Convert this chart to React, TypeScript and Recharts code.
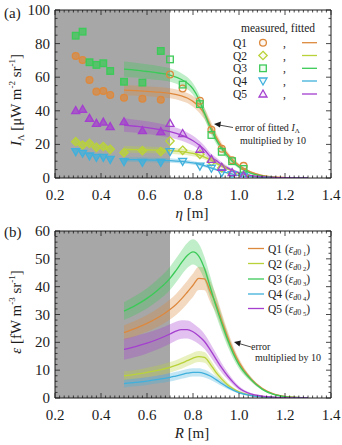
import React from 'react';
import { ComposedChart, Line, Area, Scatter, XAxis, YAxis, ReferenceArea } from 'recharts';

// ---- data ----
const seriesNames = ['Q1', 'Q2', 'Q3', 'Q4', 'Q5'];
const seriesColors = ['#dd893d', '#bad23a', '#3cca58', '#40b0dc', '#a43fcf'];

// (a) measured intensity I_lambda vs eta
const etaMeas = [0.29, 0.32, 0.35, 0.38, 0.41, 0.44, 0.5, 0.58, 0.66, 0.7, 0.755, 0.83, 0.88, 0.925, 0.97, 1.02];
const q1Meas = [72.6, 70.2, 58.3, 51.4, 51.8, 49.4, 47.8, 47.2, 46.6, 61.6, 53.3, 46.0, 28.7, 17.4, 10.6, 7.2];
const q2Meas = [21.6, 19.6, 20.6, 18.3, 18.7, 17.1, 15.1, 16.3, 15.7, 22.0, 16.5, 14.1, 9.7, 6.0, 2.6, 1.3];
const q3Meas = [84.7, 87.1, 68.9, 67.3, 68.3, 63.7, 57.3, 56.8, 75.6, 70.6, 55.6, 44.0, 25.6, 15.6, 10.0, 5.4];
const q4Meas = [15.7, 14.7, 13.1, 12.3, 12.3, 11.1, 9.7, 9.3, 9.3, 15.7, 9.9, 7.1, 5.8, 3.2, 2.0, 1.0];
const q5Meas = [40.1, 40.9, 35.5, 32.5, 33.3, 30.6, 33.5, 28.2, 27.6, 32.5, 26.5, 17.1, 11.1, 6.4, 3.2, 1.6];

// (a) fitted curves and their error (x10)
const etaFit = [0.5, 0.55, 0.6, 0.65, 0.7, 0.75, 0.775, 0.8, 0.825, 0.85, 0.875, 0.9, 0.925, 0.95, 0.975, 1.0, 1.05, 1.1, 1.15, 1.2, 1.25, 1.3];
const q1Fit = [52.3, 52.0, 51.6, 51.1, 50.4, 48.9, 47.6, 45.6, 42.6, 38.3, 31.5, 24.5, 18.8, 14.2, 10.5, 7.6, 3.6, 1.5, 0.6, 0.25, 0.1, 0.05];
const q2Fit = [17.0, 16.9, 16.8, 16.6, 16.3, 15.7, 15.2, 14.6, 13.7, 12.4, 10.8, 8.9, 7.0, 5.4, 4.0, 2.9, 1.4, 0.6, 0.25, 0.1, 0.05, 0.02];
const q3Fit = [64.8, 64.2, 63.4, 62.5, 61.3, 58.6, 56.5, 53.0, 47.0, 38.5, 30.0, 23.0, 17.5, 13.0, 9.4, 6.6, 2.9, 1.1, 0.4, 0.15, 0.05, 0.02];
const q4Fit = [11.0, 10.9, 10.8, 10.6, 10.4, 9.9, 9.5, 9.0, 8.3, 7.3, 6.2, 5.0, 3.9, 3.0, 2.2, 1.6, 0.8, 0.35, 0.15, 0.06, 0.03, 0.01];
const q5Fit = [31.5, 30.8, 30.0, 28.9, 27.6, 25.5, 24.0, 22.2, 19.8, 16.8, 12.8, 10.5, 8.0, 6.0, 4.4, 3.2, 1.6, 0.8, 0.35, 0.15, 0.07, 0.03];
const q1FitErr = [3.0, 3.0, 3.0, 3.0, 3.0, 3.0, 3.0, 3.2, 3.4, 3.4, 3.0, 2.6, 2.0, 1.6, 1.2, 0.9, 0.5, 0.25, 0.1, 0.05, 0.02, 0.01];
const q2FitErr = [2.0, 2.0, 1.9, 1.9, 1.8, 1.8, 1.7, 1.6, 1.5, 1.4, 1.3, 1.1, 0.9, 0.7, 0.5, 0.4, 0.2, 0.1, 0.04, 0.02, 0.01, 0];
const q3FitErr = [4.5, 4.4, 4.3, 4.2, 4.0, 3.8, 3.6, 3.4, 3.3, 3.2, 2.9, 2.5, 2.0, 1.6, 1.2, 0.9, 0.45, 0.2, 0.08, 0.03, 0.01, 0.01];
const q4FitErr = [1.4, 1.4, 1.4, 1.3, 1.3, 1.2, 1.2, 1.1, 1.0, 0.9, 0.8, 0.7, 0.55, 0.45, 0.35, 0.25, 0.12, 0.06, 0.03, 0.01, 0, 0];
const q5FitErr = [4.0, 3.9, 3.8, 3.7, 3.5, 3.3, 3.1, 2.9, 2.7, 2.4, 2.1, 1.8, 1.4, 1.1, 0.8, 0.6, 0.3, 0.15, 0.06, 0.03, 0.01, 0.01];

// (b) emissivity vs R
const rGrid = [0.5, 0.55, 0.6, 0.65, 0.7, 0.725, 0.75, 0.775, 0.8, 0.825, 0.85, 0.875, 0.9, 0.925, 0.95, 0.975, 1.0, 1.05, 1.1, 1.15, 1.2, 1.25, 1.3];
const q1Eps = [23.5, 25.0, 26.8, 29.0, 31.8, 33.5, 35.6, 38.0, 40.5, 43.0, 42.8, 38.2, 33.8, 27.8, 22.0, 17.0, 12.8, 7.0, 3.5, 1.5, 0.6, 0.25, 0.1];
const q2Eps = [8.0, 8.5, 9.2, 10.0, 11.0, 11.7, 12.5, 13.4, 14.3, 14.9, 14.6, 12.2, 9.2, 6.8, 4.8, 3.3, 2.2, 1.0, 0.5, 0.2, 0.1, 0.04, 0.02];
const q3Eps = [31.2, 33.3, 35.8, 39.0, 43.0, 45.7, 48.6, 51.2, 52.5, 51.0, 46.5, 39.8, 33.0, 26.8, 21.0, 16.0, 12.0, 6.8, 3.2, 1.3, 0.5, 0.2, 0.08];
const q4Eps = [5.2, 5.6, 6.1, 6.7, 7.4, 7.9, 8.4, 8.9, 9.2, 9.2, 8.8, 7.9, 6.6, 5.2, 3.9, 2.8, 1.9, 0.9, 0.4, 0.18, 0.07, 0.03, 0.01];
const q5Eps = [17.5, 18.5, 19.7, 21.2, 23.0, 24.0, 24.6, 24.6, 23.8, 22.3, 20.3, 17.3, 14.0, 10.8, 8.0, 5.6, 3.6, 1.5, 0.7, 0.3, 0.12, 0.05, 0.02];
const q1EpsErr = [2.6, 2.8, 3.0, 3.3, 3.6, 3.8, 4.0, 4.1, 4.2, 4.2, 4.1, 3.8, 3.3, 2.8, 2.3, 1.8, 1.4, 0.8, 0.4, 0.2, 0.08, 0.03, 0.01];
const q2EpsErr = [1.6, 1.6, 1.7, 1.8, 1.9, 1.9, 2.0, 2.0, 2.0, 2.0, 1.9, 1.7, 1.4, 1.1, 0.8, 0.6, 0.4, 0.2, 0.1, 0.04, 0.02, 0.01, 0];
const q3EpsErr = [3.2, 3.4, 3.6, 3.9, 4.2, 4.3, 4.4, 4.5, 4.5, 4.4, 4.2, 3.9, 3.4, 2.9, 2.4, 1.9, 1.5, 0.8, 0.4, 0.2, 0.08, 0.03, 0.01];
const q4EpsErr = [1.4, 1.4, 1.4, 1.4, 1.5, 1.5, 1.5, 1.5, 1.5, 1.5, 1.4, 1.3, 1.1, 0.9, 0.7, 0.5, 0.35, 0.17, 0.08, 0.03, 0.01, 0, 0];
const q5EpsErr = [3.8, 3.8, 3.7, 3.6, 3.5, 3.4, 3.3, 3.2, 3.1, 2.9, 2.7, 2.4, 2.1, 1.7, 1.3, 1.0, 0.7, 0.35, 0.15, 0.07, 0.03, 0.01, 0];

const xMajorLabels = ['0.2', '0.4', '0.6', '0.8', '1.0', '1.2', '1.4'];
const yMajorLabelsA = ['0', '20', '40', '60', '80', '100'];
const yMajorLabelsB = ['0', '10', '20', '30', '40', '50', '60'];

// ---- derived tables ----
const measA = [q1Meas, q2Meas, q3Meas, q4Meas, q5Meas];
const fitA = [q1Fit, q2Fit, q3Fit, q4Fit, q5Fit];
const errA = [q1FitErr, q2FitErr, q3FitErr, q4FitErr, q5FitErr];
const epsB = [q1Eps, q2Eps, q3Eps, q4Eps, q5Eps];
const errB = [q1EpsErr, q2EpsErr, q3EpsErr, q4EpsErr, q5EpsErr];

function buildRows(xs: number[], vals: number[][], errs: number[][]) {
  return xs.map((x, i) => {
    const row: any = { x };
    seriesNames.forEach((s, k) => {
      row[s] = vals[k][i];
      row[s + 'band'] = [Math.max(0, vals[k][i] - errs[k][i]), vals[k][i] + errs[k][i]];
    });
    return row;
  });
}

const rowsA = buildRows(etaFit, fitA, errA);
const rowsB = buildRows(rGrid, epsB, errB);
const scatterA = measA.map((vals) => etaMeas.map((x, i) => ({ x, y: vals[i] })));

const xTicks = Array.from({ length: 61 }, (_, i) => Math.round((0.2 + i * 0.02) * 100) / 100);
const yTicksA = Array.from({ length: 21 }, (_, i) => i * 5);
const yTicksB = Array.from({ length: 31 }, (_, i) => i * 2);

const SERIF = 'Liberation Serif';
const INK = '#1c1c1c';
const GRAY = '#a7a7a7';

function isMajor(v: number, step: number) {
  return Math.abs(v / step - Math.round(v / step)) < 1e-6;
}

// ticks point inward; labels only on the bottom and left axes
function makeTick(side: 'bottom' | 'top' | 'left' | 'right', step: number, labels?: string[], first = 0) {
  return (p: any) => {
    const v = p.payload.value;
    const major = isMajor(v, step);
    const len = major ? 5 : 2.5;
    const { x, y } = p;
    let line;
    let label = null;
    const idx = Math.round((v - first) / step);
    if (side === 'bottom') {
      line = <line x1={x} y1={y} x2={x} y2={y - len} stroke={INK} strokeWidth={0.8} />;
      if (labels && major) label = <text x={x} y={y + 22} textAnchor="middle" style={{ fontFamily: SERIF }} fontSize={15} fill={INK}>{labels[idx]}</text>;
    } else if (side === 'top') {
      line = <line x1={x} y1={y} x2={x} y2={y + len} stroke={INK} strokeWidth={0.8} />;
    } else if (side === 'left') {
      line = <line x1={x} y1={y} x2={x + len} y2={y} stroke={INK} strokeWidth={0.8} />;
      if (labels && major) label = <text x={x - 5} y={y + 5} textAnchor="end" style={{ fontFamily: SERIF }} fontSize={15} fill={INK}>{labels[idx]}</text>;
    } else {
      line = <line x1={x} y1={y} x2={x - len} y2={y} stroke={INK} strokeWidth={0.8} />;
    }
    return <g>{line}{label}</g>;
  };
}

function MarkerShape({ cx, cy, kind, color, filled }: any) {
  const common = { stroke: color, strokeWidth: 1.3, fill: color, fillOpacity: filled ? 0.75 : 0.08 };
  if (kind === 0) return <circle cx={cx} cy={cy} r={3.4} {...common} />;
  if (kind === 1) return <polygon points={`${cx},${cy - 4.2} ${cx + 4.2},${cy} ${cx},${cy + 4.2} ${cx - 4.2},${cy}`} {...common} />;
  if (kind === 2) return <rect x={cx - 3.3} y={cy - 3.3} width={6.6} height={6.6} {...common} />;
  if (kind === 3) return <polygon points={`${cx - 4},${cy - 3} ${cx + 4},${cy - 3} ${cx},${cy + 4}`} {...common} />;
  return <polygon points={`${cx - 4},${cy + 3} ${cx + 4},${cy + 3} ${cx},${cy - 4}`} {...common} />;
}

function axes(yMax: number, yTicks: number[], yStep: number, yLabels: string[]) {
  return [
    <XAxis key="xb" xAxisId="b" dataKey="x" type="number" domain={[0.2, 1.4]} ticks={xTicks} interval={0}
      tickSize={0} tickMargin={0} tickLine={false} tick={makeTick('bottom', 0.2, xMajorLabels, 0.2)} height={1}
      allowDataOverflow stroke={INK} />,
    <XAxis key="xt" xAxisId="t" orientation="top" dataKey="x" type="number" domain={[0.2, 1.4]} ticks={xTicks} interval={0}
      tickSize={0} tickMargin={0} tickLine={false} tick={makeTick('top', 0.2)} height={1}
      allowDataOverflow stroke={INK} />,
    <YAxis key="yl" yAxisId="l" type="number" domain={[0, yMax]} ticks={yTicks} interval={0}
      tickSize={0} tickMargin={0} tickLine={false} tick={makeTick('left', yStep, yLabels, 0)} width={1}
      allowDataOverflow stroke={INK} />,
    <YAxis key="yr" yAxisId="r" orientation="right" type="number" domain={[0, yMax]} ticks={yTicks} interval={0}
      tickSize={0} tickMargin={0} tickLine={false} tick={makeTick('right', yStep)} width={1}
      allowDataOverflow stroke={INK} />,
  ];
}

function bandsAndLines() {
  const out: any[] = [];
  seriesNames.forEach((s, k) => {
    out.push(
      <Area key={s + 'band'} xAxisId="b" yAxisId="l" dataKey={s + 'band'} type="monotone" stroke="none"
        fill={seriesColors[k]} fillOpacity={0.32} isAnimationActive={false} />
    );
  });
  seriesNames.forEach((s, k) => {
    out.push(
      <Line key={s} xAxisId="b" yAxisId="l" dataKey={s} type="monotone" stroke={seriesColors[k]}
        strokeWidth={1.3} dot={false} isAnimationActive={false} />
    );
  });
  return out;
}

function Sup({ children }: any) {
  return <tspan fontSize={9} dy={-6}>{children}</tspan>;
}

function Overlay() {
  const t = { style: { fontFamily: SERIF }, fill: INK };
  const legA = [42.7, 55.5, 68.3, 81, 94];
  const legB = [248.5, 263.5, 279, 294, 308.5];
  return (
    <svg width={342} height={445} style={{ position: 'absolute', left: 0, top: 0, pointerEvents: 'none' }}>
      <text x={4} y={18} fontSize={15} {...t}>(a)</text>
      <text x={4} y={237} fontSize={15} {...t}>(b)</text>

      <text transform="translate(21,100) rotate(-90)" textAnchor="middle" fontSize={15} {...t}>
        <tspan fontStyle="italic">I</tspan>
        <tspan fontSize={9} dy={3}>Λ</tspan>
        <tspan dy={-3}> [μW m</tspan>
        <Sup>-2</Sup>
        <tspan dy={6}> sr</tspan>
        <Sup>-1</Sup>
        <tspan dy={6}>]</tspan>
      </text>
      <text transform="translate(21,312) rotate(-90)" textAnchor="middle" fontSize={15} {...t}>
        <tspan fontStyle="italic">ε</tspan>
        <tspan> [fW m</tspan>
        <Sup>-3</Sup>
        <tspan dy={6}> sr</tspan>
        <Sup>-1</Sup>
        <tspan dy={6}>]</tspan>
      </text>

      <text x={192} y={218} textAnchor="middle" fontSize={15} {...t}>
        <tspan fontStyle="italic">η</tspan> [m]
      </text>
      <text x={192} y={438} textAnchor="middle" fontSize={15} {...t}>
        <tspan fontStyle="italic">R</tspan> [m]
      </text>

      {/* legend (a) */}
      <text x={241} y={32} fontSize={11.5} {...t}>measured,  fitted</text>
      {seriesNames.map((s, k) => (
        <g key={s}>
          <text x={233} y={legA[k] + 4} fontSize={11.5} {...t}>{s}</text>
          <MarkerShape cx={263} cy={legA[k]} kind={k} color={seriesColors[k]} filled={false} />
          <text x={283} y={legA[k] + 4} fontSize={11.5} {...t}>,</text>
          <line x1={302} x2={317} y1={legA[k]} y2={legA[k]} stroke={seriesColors[k]} strokeWidth={1.3} />
        </g>
      ))}

      {/* annotation (a) */}
      <line x1={233} y1={127.5} x2={219} y2={125} stroke={INK} strokeWidth={0.8} />
      <polygon points="214,124 221,121.5 220,127.5" fill={INK} />
      <text x={235} y={131} fontSize={10} {...t}>
        error of fitted <tspan fontStyle="italic">I</tspan><tspan fontSize={7} dy={2}>Λ</tspan>
      </text>
      <text x={240} y={144} fontSize={10} {...t}>multiplied by 10</text>

      {/* legend (b) */}
      {seriesNames.map((s, k) => (
        <g key={s}>
          <line x1={248} x2={264} y1={legB[k]} y2={legB[k]} stroke={seriesColors[k]} strokeWidth={1.3} />
          <text x={268} y={legB[k] + 4} fontSize={11.5} {...t}>
            {s} (<tspan fontStyle="italic">ε</tspan><tspan fontSize={8} fontStyle="italic" dy={2}>d</tspan><tspan fontSize={8} dy={0}>0</tspan><tspan fontSize={6.5} dy={1}> {k + 1}</tspan><tspan dy={-3}>)</tspan>
          </text>
        </g>
      ))}

      {/* annotation (b) */}
      <line x1={251} y1={347} x2={239} y2={343.5} stroke={INK} strokeWidth={0.8} />
      <polygon points="234,342 241,340.5 239.5,346.5" fill={INK} />
      <text x={251} y={350} fontSize={10} {...t}>error</text>
      <text x={255} y={361} fontSize={10} {...t}>multiplied by 10</text>
    </svg>
  );
}

export default function App() {
  return (
    <div style={{ position: 'absolute', left: 0, top: 0, width: 342, height: 445, background: '#fff' }}>
      <div style={{ position: 'absolute', left: 0, top: 0 }}>
        <ComposedChart width={342} height={222} data={rowsA} margin={{ top: 9, right: 10, bottom: 43, left: 54 }}>
          {axes(100, yTicksA, 20, yMajorLabelsA)}
          <ReferenceArea xAxisId="b" yAxisId="l" x1={0.2} x2={0.7} y1={0} y2={100} fill={GRAY} fillOpacity={1} stroke="none" />
          {bandsAndLines()}
          {seriesNames.map((s, k) => (
            <Scatter key={s + 'm'} xAxisId="b" yAxisId="l" data={scatterA[k]} dataKey="y" isAnimationActive={false}
              shape={(p: any) => <MarkerShape cx={p.cx} cy={p.cy} kind={k} color={seriesColors[k]} filled={p.payload.x < 0.69} />} />
          ))}
        </ComposedChart>
      </div>
      <div style={{ position: 'absolute', left: 0, top: 222 }}>
        <ComposedChart width={342} height={223} data={rowsB} margin={{ top: 8, right: 10, bottom: 46, left: 54 }}>
          {axes(60, yTicksB, 10, yMajorLabelsB)}
          <ReferenceArea xAxisId="b" yAxisId="l" x1={0.2} x2={0.7} y1={0} y2={60} fill={GRAY} fillOpacity={1} stroke="none" />
          {bandsAndLines()}
        </ComposedChart>
      </div>
      <Overlay />
    </div>
  );
}
